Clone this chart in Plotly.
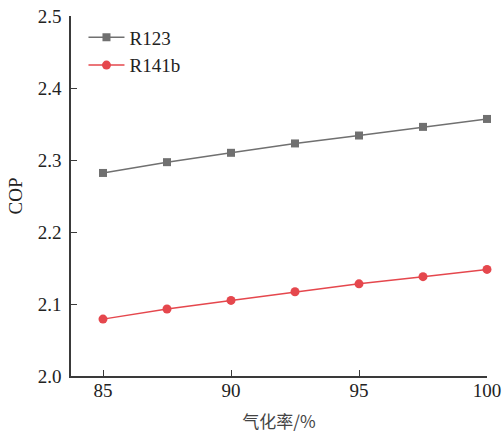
import plotly.graph_objects as go

x_vals = [85, 87.5, 90, 92.5, 95, 97.5, 100]
r123 = [2.282, 2.297, 2.310, 2.323, 2.334, 2.346, 2.357]
r141b = [2.079, 2.093, 2.105, 2.117, 2.128, 2.138, 2.148]
x_ticks = [85, 90, 95, 100]
y_ticks = [2.0, 2.1, 2.2, 2.3, 2.4, 2.5]

FONT = "Liberation Serif, Times New Roman, Noto Sans CJK SC, serif"
AX = "#3a3a3a"

fig = go.Figure()
fig.add_trace(go.Scatter(x=x_vals, y=r123, name="R123", mode="lines+markers",
                         line=dict(color="#707070", width=1.5),
                         marker=dict(symbol="square", size=8, color="#707070"),
                         cliponaxis=False))
fig.add_trace(go.Scatter(x=x_vals, y=r141b, name="R141b", mode="lines+markers",
                         line=dict(color="#e5474d", width=1.5),
                         marker=dict(symbol="circle", size=9, color="#e5474d"),
                         cliponaxis=False))

fig.update_layout(
    width=503, height=435,
    margin=dict(l=71, r=16, t=16, b=59),
    paper_bgcolor="white", plot_bgcolor="white",
    font=dict(family=FONT, size=19, color="#222"),
    showlegend=True,
    legend=dict(x=0.03, y=0.993, xanchor="left", yanchor="top",
                font=dict(family=FONT, size=19, color="#222"),
                bgcolor="rgba(0,0,0,0)", itemwidth=36, tracegroupgap=0),
    xaxis=dict(range=[83.75, 100], tickvals=x_ticks, ticks="inside", ticklen=6,
               tickcolor=AX, tickwidth=1.3, showline=True, linecolor=AX, linewidth=1.5,
               showgrid=False, zeroline=False, automargin=False, ticklabelstandoff=-4,
               title=dict(text="气化率/%", font=dict(family="Noto Sans CJK SC", size=17, color="#444"), standoff=17),
               tickfont=dict(family=FONT, size=19, color="#222")),
    yaxis=dict(range=[2.0, 2.5], tickvals=y_ticks, tickformat=".1f", ticks="inside", ticklen=6,
               tickcolor=AX, tickwidth=1.3, showline=True, linecolor=AX, linewidth=1.5,
               showgrid=False, zeroline=False, automargin=False, ticklabelstandoff=4,
               title=dict(text="COP", font=dict(family=FONT, size=19, color="#222"), standoff=10),
               tickfont=dict(family=FONT, size=19, color="#222")),
)

fig.write_html("out.html")
